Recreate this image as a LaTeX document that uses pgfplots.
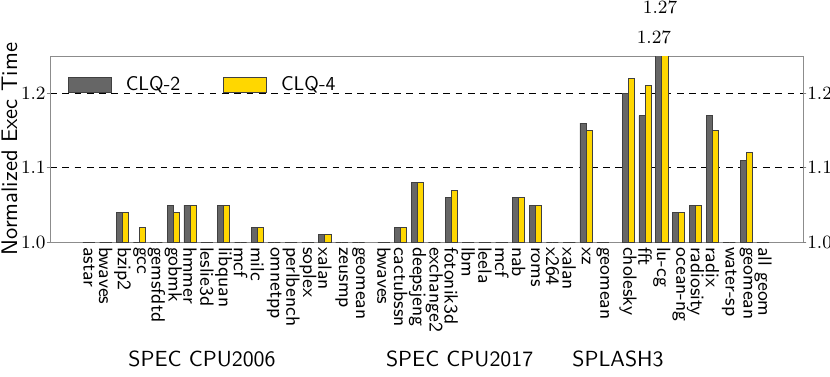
\documentclass[border=0pt]{standalone}
\usepackage{pgfplots}
\pgfplotsset{compat=1.18}
\usepackage{pgfplotstable}

\definecolor{clqgray}{RGB}{102,102,102}
\definecolor{clqgold}{RGB}{255,215,0}

% x: slot position (groups separated by half a slot)
\pgfplotstableread{
x     clq2  clq4
0     1.00  1.00
1     1.00  1.00
2     1.04  1.04
3     1.00  1.02
4     1.00  1.00
5     1.05  1.04
6     1.05  1.05
7     1.00  1.00
8     1.05  1.05
9     1.00  1.00
10    1.02  1.02
11    1.00  1.00
12    1.00  1.00
13    1.00  1.00
14    1.01  1.01
15    1.00  1.00
16    1.00  1.00
17.5  1.00  1.00
18.5  1.02  1.02
19.5  1.08  1.08
20.5  1.00  1.00
21.5  1.06  1.07
22.5  1.00  1.00
23.5  1.00  1.00
24.5  1.00  1.00
25.5  1.06  1.06
26.5  1.05  1.05
27.5  1.00  1.00
28.5  1.00  1.00
29.5  1.16  1.15
30.5  1.00  1.00
32    1.20  1.22
33    1.17  1.21
34    1.27  1.27
35    1.04  1.04
36    1.05  1.05
37    1.17  1.15
38    1.00  1.00
39    1.11  1.12
40    1.00  1.00
}\datatable

\pgfplotsset{
  clqaxis/.style={
    scale only axis, width=361.4pt, height=89.4pt,
    xmin=-2.31, xmax=42.37, ymin=1.0, ymax=1.25,
    ytick={1.0,1.1,1.2},
    tick align=outside,
    major tick length=1.6pt,
    ytick style={black!50, line width=0.5pt},
    xtick style={draw=none},
    yticklabel style={font=\fontsize{9}{11}\selectfont, inner xsep=0.3pt,
      /pgf/number format/.cd, fixed, fixed zerofill, precision=1},
  },
}

\begin{document}
\begin{tikzpicture}
\begin{axis}[
    clqaxis,
    name=main,
    ybar=0pt, bar width=0.36,
    xtick=data,
    xticklabels={astar,bwaves,bzip2,gcc,gemsfdtd,gobmk,hmmer,leslie3d,libquan,mcf,milc,omnetpp,perlbench,soplex,xalan,zeusmp,geomean,
      bwaves,cactubssn,deepsjeng,exchange2,fotonik3d,lbm,leela,mcf,nab,roms,x264,xalan,xz,geomean,
      cholesky,fft,lu-cg,ocean-ng,radiosity,radix,water-sp,geomean,all geom},
    xticklabel style={rotate=-90, anchor=west, inner sep=0.5pt,
      font=\sffamily\fontsize{9.2}{10}\selectfont},
    ymajorgrids,
    grid style={black, line width=0.6pt, dash pattern=on 3.2pt off 2.7pt},
    axis line style={black!45},
    ylabel={Normalized Exec Time},
    every axis y label/.style={at={(rel axis cs:0,0.5)}, xshift=-15.8pt,
      rotate=90, anchor=base, inner sep=0pt,
      font=\sffamily\fontsize{10.8}{12}\selectfont},
    legend columns=2,
    legend style={draw=none, fill=none, inner sep=0pt,
      at={(0,1)}, anchor=west, xshift=8.3pt, yshift=-13.9pt,
      font=\sffamily\fontsize{9.5}{11}\selectfont,
      /tikz/every odd column/.append style={column sep=4.9pt},
      /tikz/every even column/.append style={column sep=18.5pt}},
    clip mode=individual,
]
\addplot[fill=clqgray, draw=black!75, line width=0.4pt,
  legend image code/.code={\draw[fill=clqgray, draw=black!75, line width=0.4pt] (0pt,-3.6pt) rectangle (20.6pt,3.6pt);}]
  table[x=x, y=clq2] {\datatable};
\addlegendentry{CLQ-2}
\addplot[fill=clqgold, draw=black!75, line width=0.4pt,
  legend image code/.code={\draw[fill=clqgold, draw=black!75, line width=0.4pt] (0pt,-3.6pt) rectangle (20.6pt,3.6pt);}]
  table[x=x, y=clq4] {\datatable};
\addlegendentry{CLQ-4}

% clipped lu-cg bars
\node[font=\fontsize{9.2}{11}\selectfont] at (axis cs:33.53,1.275) {$1.27$};
\node[font=\fontsize{9.2}{11}\selectfont] at (axis cs:33.89,1.315) {$1.27$};

% group names
\node[anchor=base, yshift=-59.4pt, font=\sffamily\fontsize{10.5}{12}\selectfont] at (axis cs:6.71,1.0) {SPEC CPU2006};
\node[anchor=base, yshift=-59.4pt, font=\sffamily\fontsize{10.5}{12}\selectfont] at (axis cs:22.0,1.0) {SPEC CPU2017};
\node[anchor=base, yshift=-59.4pt, font=\sffamily\fontsize{10.5}{12}\selectfont] at (axis cs:31.4,1.0) {SPLASH3};
\end{axis}

% right-hand tick labels
\begin{axis}[
    clqaxis,
    hide x axis,
    axis y line*=right,
    axis line style={draw=none},
]
\addplot[draw=none, forget plot] coordinates {(0,1)};
\end{axis}

\pgfresetboundingbox
\path[use as bounding box] ([xshift=-24pt, yshift=-64.2pt]main.south west)
  rectangle ([xshift=13pt, yshift=26.9pt]main.north east);
\end{tikzpicture}
\end{document}
